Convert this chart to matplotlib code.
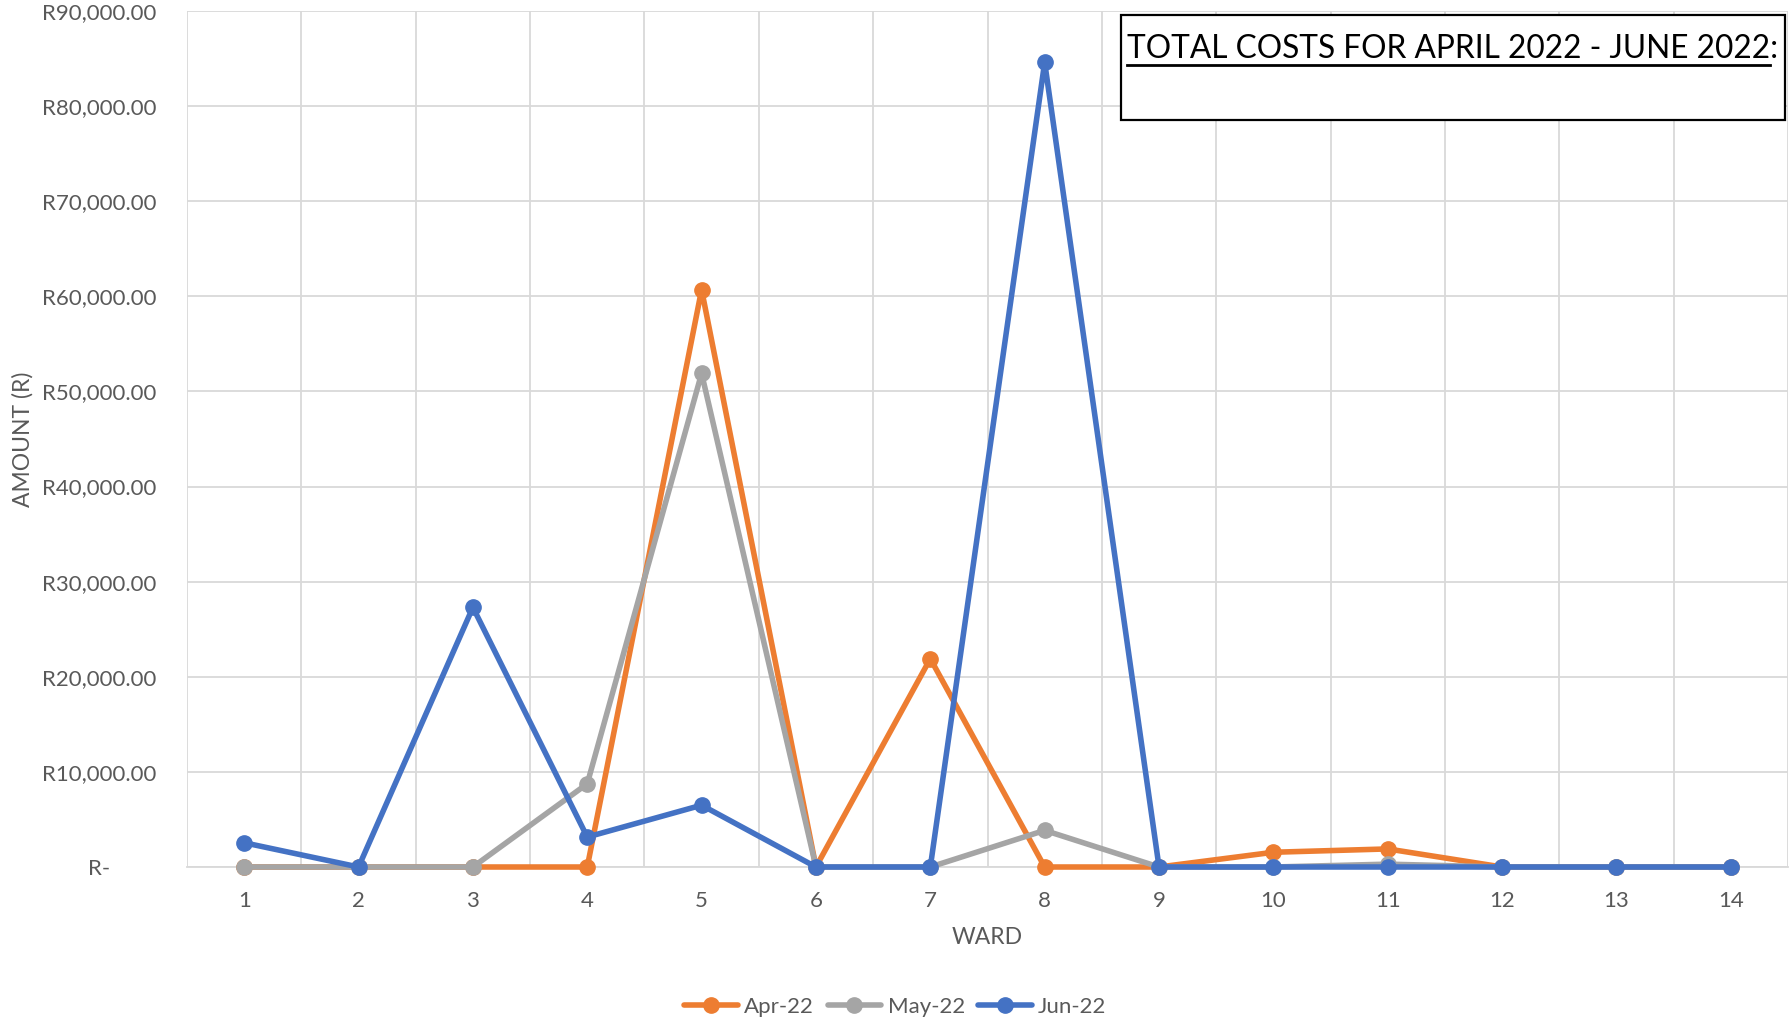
import numpy as np
import matplotlib
matplotlib.use("Agg")
import matplotlib.pyplot as plt
from matplotlib.ticker import FuncFormatter, MultipleLocator
from matplotlib.patches import Rectangle
from matplotlib.lines import Line2D

plt.rcParams['font.family'] = ['Lato', 'DejaVu Sans']

wards = list(range(1, 15))
apr_22 = [0, 0, 0, 0, 60700, 0, 21900, 0, 0, 1550, 1900, 0, 0, 0]
may_22 = [0, 0, 0, 8750, 51900, 0, 0, 3850, 0, 0, 300, 0, 0, 0]
jun_22 = [2550, 0, 27300, 3150, 6500, 0, 0, 84600, 0, 0, 0, 0, 0, 0]
series_names = ['Apr-22', 'May-22', 'Jun-22']
colors = ['#ED7D31', '#A5A5A5', '#4472C4']
box_title = 'TOTAL COSTS FOR APRIL 2022 - JUNE 2022:'

fig = plt.figure(figsize=(17.91, 10.24), dpi=100)
ax = fig.add_axes([187/1791, 1 - 867/1024, (1788-187)/1791, (867-11)/1024])

x = np.arange(len(wards))
for i, (vals, name, c) in enumerate(zip([apr_22, may_22, jun_22], series_names, colors)):
    ax.plot(x, vals, color=c, lw=4, marker='o', ms=11, label=name,
            solid_capstyle='round', clip_on=False, zorder=3 + i)

ax.set_xlim(-0.5, len(wards) - 0.5)
ax.set_ylim(0, 90000)
ax.yaxis.set_major_locator(MultipleLocator(10000))
ax.set_xticks(x)
ax.set_xticklabels([str(w) for w in wards])
ax.set_xticks(np.arange(-0.5, len(wards)), minor=True)

def rand_fmt(v, pos):
    if v == 0:
        return 'R-        '
    return 'R{:,.2f}'.format(v)
ax.yaxis.set_major_formatter(FuncFormatter(rand_fmt))

ax.grid(False)
ax.grid(which='major', axis='y', color='#D9D9D9', lw=1.3)
ax.grid(which='minor', axis='x', color='#D9D9D9', lw=1.3)
ax.tick_params(which='both', length=0)
ax.tick_params(axis='both', labelsize=16, labelcolor='#595959')
ax.tick_params(axis='x', pad=17)
ax.tick_params(axis='y', pad=22)
for s in ['top', 'right', 'left']:
    ax.spines[s].set_visible(False)
ax.spines['bottom'].set_color('#D9D9D9')
ax.spines['bottom'].set_linewidth(1.3)
ax.spines['bottom'].set_zorder(1)
ax.set_axisbelow(True)

ax.set_xlabel('WARD', fontsize=16.5, color='#595959', labelpad=12)
ax.set_ylabel('AMOUNT (R)', fontsize=16.5, color='#595959')
ax.yaxis.set_label_coords(-0.096, 0.5)

leg = fig.legend(loc='center', bbox_to_anchor=(0.5, 1 - 1007/1024), ncol=3,
                 frameon=False, fontsize=16, handlelength=2.4,
                 columnspacing=0.6, handletextpad=0.3)
for t in leg.get_texts():
    t.set_color('#595959')

# text box with underlined title
bx0, by0, bx1, by1 = 1121, 15, 1785, 120
fig.patches.append(Rectangle((bx0/1791, 1 - by1/1024), (bx1-bx0)/1791, (by1-by0)/1024,
                             transform=fig.transFigure, facecolor='white',
                             edgecolor='black', lw=1.6, zorder=5))
txt = fig.text(1127/1791, 1 - 49/1024, box_title, fontsize=26, color='black',
               ha='left', va='center', zorder=6)
renderer = fig.canvas.get_renderer()
w = txt.get_window_extent(renderer=renderer).width
txt.set_fontsize(26 * 651 / w)
bb = txt.get_window_extent(renderer=renderer)
uy = bb.y0 - 1
fig.lines.append(Line2D([bb.x0 / fig.bbox.width, (bb.x1 - 8) / fig.bbox.width],
                        [uy / fig.bbox.height, uy / fig.bbox.height],
                        transform=fig.transFigure, color='black', lw=2.0, zorder=6))

fig.savefig('out.png', dpi=100)
